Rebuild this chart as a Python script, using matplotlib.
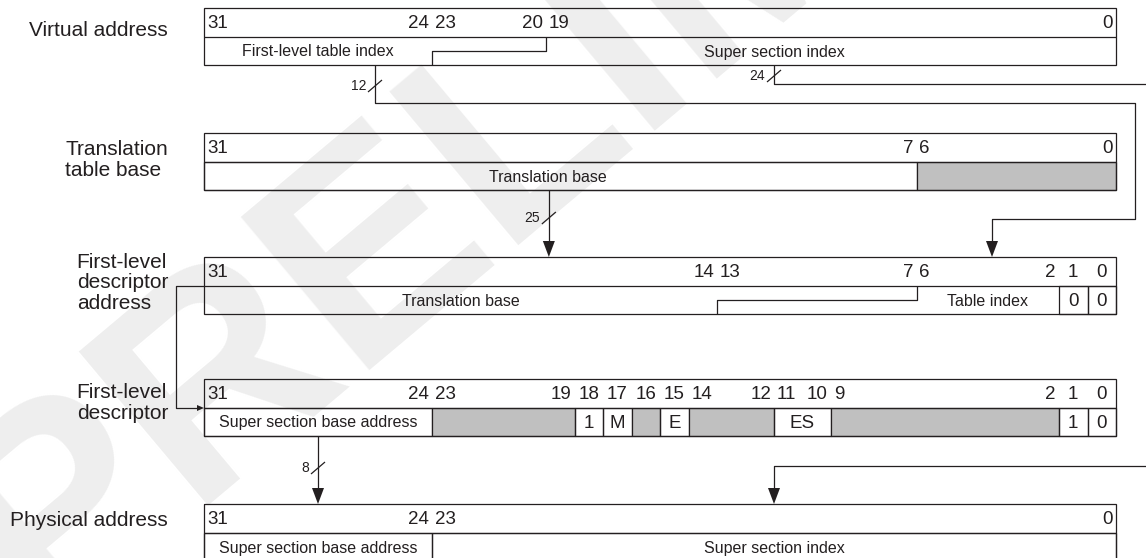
import matplotlib.pyplot as plt
from matplotlib.patches import Rectangle, Polygon

plt.rcParams['font.family'] = ['Liberation Sans', 'DejaVu Sans']

# register names, top to bottom
row_names = ["Virtual address", "Translation\ntable base",
             "First-level\ndescriptor\naddress", "First-level\ndescriptor",
             "Physical address"]

# bit ranges numbered on the upper line of each register (high, low)
va_bits = [(31, 24), (23, 20), (19, 0)]
ttb_bits = [(31, 7), (6, 0)]
flda_bits = [(31, 14), (13, 7), (6, 2), (1, 1), (0, 0)]
fld_bits = [(31, 24), (23, 19), (18, 18), (17, 17), (16, 16), (15, 15),
            (14, 12), (11, 10), (9, 2), (1, 1), (0, 0)]
pa_bits = [(31, 24), (23, 0)]

# lower line: (high, low, text, kind)
# kind: 'name' caption in a cell, 'val' fixed value, 'sbz' grey, 'free' caption with no cell walls
va_cells = [(31, 24, "First-level table index", 'free'),
            (23, 0, "Super section index", 'free')]
ttb_cells = [(31, 7, "Translation base", 'name'), (6, 0, "", 'sbz')]
flda_cells = [(31, 14, "Translation base", 'free'), (6, 2, "Table index", 'free'),
              (1, 1, "0", 'val'), (0, 0, "0", 'val')]
fld_cells = [(31, 24, "Super section base address", 'name'), (23, 19, "", 'sbz'),
             (18, 18, "1", 'val'), (17, 17, "M", 'val'), (16, 16, "", 'sbz'),
             (15, 15, "E", 'val'), (14, 12, "", 'sbz'), (11, 10, "ES", 'val'),
             (9, 2, "", 'sbz'), (1, 1, "1", 'val'), (0, 0, "0", 'val')]
pa_cells = [(31, 24, "Super section base address", 'name'),
            (23, 0, "Super section index", 'name')]

# widths written beside the wires
bus_widths = ["12", "24", "25", "8"]

rows_bits = [va_bits, ttb_bits, flda_bits, fld_bits, pa_bits]
rows_cells = [va_cells, ttb_cells, flda_cells, fld_cells, pa_cells]

# ---- layout (pixels, y downwards) ----
X0, X1 = 204, 1116
BW = (X1 - X0) / 32
TOPS = [8, 133, 257, 379, 504]
H, HALF = 57, 29
NAME_X = 168
NAME_Y = [30, 160, 283, 403, 520]
CAPTION_SHIFT = {(1, 31): -12}   # ttb caption sits a little left of its cell centre
INK = '#231f20'
GREY = '#c0c0c0'
LW = 0.9


def edge(n):
    return X0 + n * BW


def left(b):
    return edge(31 - b)


def right(b):
    return edge(32 - b)


fig = plt.figure(figsize=(11.46, 5.58), dpi=100)
ax = fig.add_axes([0, 0, 1, 1])
ax.set_xlim(0, 1146)
ax.set_ylim(558, 0)
ax.axis('off')

# faint watermark
ax.text(40, 630, "PRELIMINARY", rotation=40, rotation_mode='anchor',
        fontsize=210, fontweight='bold', color='#eeeeee', ha='left',
        va='baseline', zorder=0)


def line(xs, ys):
    ax.plot(xs, ys, color=INK, lw=LW, solid_capstyle='butt', zorder=3)


def arrow_down(x, y, w=6, h=16):
    ax.add_patch(Polygon([(x - w, y - h), (x + w, y - h), (x, y)],
                         closed=True, color=INK, lw=0, zorder=4))


def bus_tick(x, y, label):
    line([x - 7, x + 7], [y + 6, y - 6])
    ax.text(x - 9, y, label, ha='right', va='center', fontsize=10, color=INK)


for i, (name, bits, cells) in enumerate(zip(row_names, rows_bits, rows_cells)):
    top = TOPS[i]
    mid = top + HALF
    bot = top + H
    ax.text(NAME_X, NAME_Y[i], name, ha='right', va='center', fontsize=15,
            color=INK, linespacing=1.12, multialignment='left')
    ax.add_patch(Rectangle((X0, top), X1 - X0, H, fill=False, ec=INK, lw=LW, zorder=3))
    line([X0, X1], [mid, mid])
    ty = (top + mid) / 2 + 1
    for hi, lo in bits:
        l, r = left(hi), right(lo)
        if hi == lo:
            ax.text((l + r) / 2, ty, str(hi), ha='center', va='center', fontsize=13.5, color=INK)
        else:
            ax.text(l + 3, ty, str(hi), ha='left', va='center', fontsize=13.5, color=INK)
            ax.text(r - 3, ty, str(lo), ha='right', va='center', fontsize=13.5, color=INK)
    by = (mid + bot) / 2 + 1
    for hi, lo, txt, kind in cells:
        l, r = left(hi), right(lo)
        if kind != 'free':
            ax.add_patch(Rectangle((l, mid), r - l, bot - mid,
                                   fc=GREY if kind == 'sbz' else 'none',
                                   ec=INK, lw=LW, zorder=2))
        if txt:
            fs = 13.5 if kind == 'val' else 11.5
            cx = (l + r) / 2 + CAPTION_SHIFT.get((i, hi), 0)
            ax.text(cx, by, txt, ha='center', va='center', fontsize=fs, color=INK)

# stepped split lines inside the lower line
for row, (n_up, n_low) in [(0, (12, 8)), (2, (25, 18))]:
    mid = TOPS[row] + HALF
    bot = TOPS[row] + H
    half = (mid + bot) / 2
    line([edge(n_up), edge(n_up), edge(n_low), edge(n_low)], [mid, half, half, bot])

# first-level table index -> descriptor address
xa, xb = edge(6), edge(32.67)
xc = 992
line([xa, xa, xb, xb, xc, xc], [TOPS[0] + H, 103, 103, 219, 219, TOPS[2] - 15])
arrow_down(xc, TOPS[2])
bus_tick(xa, 86, bus_widths[0])

# super section index out to the right
xs = edge(20)
line([xs, xs, 1146], [TOPS[0] + H, 84, 84])
bus_tick(xs, 76, bus_widths[1])

# translation base -> descriptor address
xt = edge(12.1)
line([xt, xt], [TOPS[1] + H, TOPS[2] - 15])
arrow_down(xt, TOPS[2])
bus_tick(xt, 218, bus_widths[2])

# descriptor address -> descriptor
xl = 176
yd = TOPS[2] + HALF
yf = TOPS[3] + HALF
line([X0, xl, xl, X0 - 6], [yd, yd, yf, yf])
ax.add_patch(Polygon([(X0 - 7, yf - 3), (X0 - 7, yf + 3), (X0, yf)],
                     closed=True, color=INK, lw=0, zorder=4))

# super section base -> physical address
xp = edge(4)
line([xp, xp], [TOPS[3] + H, TOPS[4] - 15])
arrow_down(xp, TOPS[4])
bus_tick(xp, 468, bus_widths[3])

# super section index back in from the right
line([1146, xs, xs], [466, 466, TOPS[4] - 15])
arrow_down(xs, TOPS[4])

fig.savefig('out.png', dpi=100)
